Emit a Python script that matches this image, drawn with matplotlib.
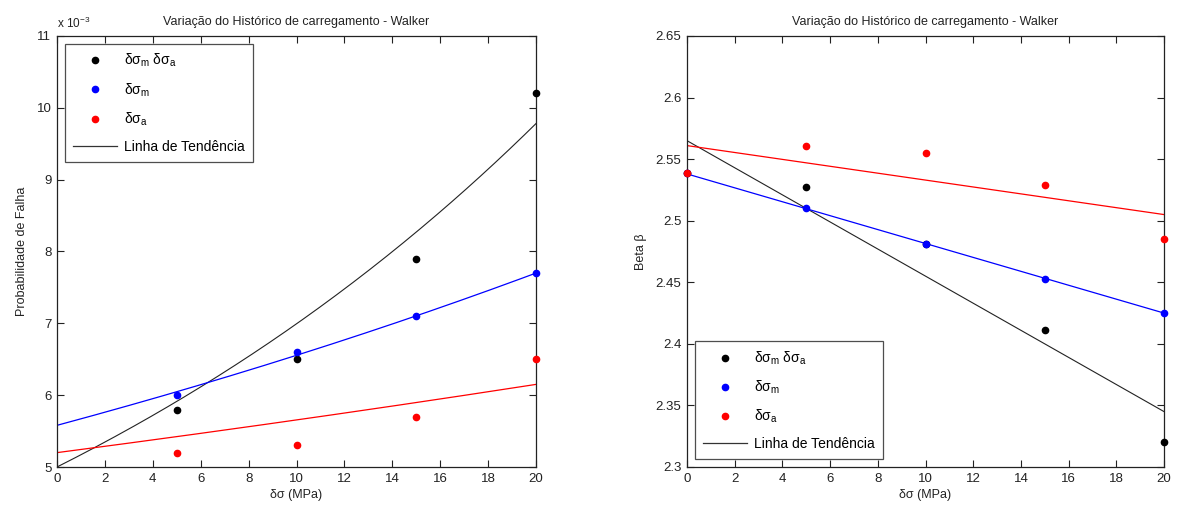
import numpy as np
import matplotlib
matplotlib.use("Agg")
import matplotlib.pyplot as plt
from matplotlib.lines import Line2D
from matplotlib.ticker import FuncFormatter, MultipleLocator

plt.rcParams["font.family"] = ["Liberation Sans", "DejaVu Sans"]
plt.rcParams["mathtext.fontset"] = "custom"
plt.rcParams["mathtext.rm"] = "Liberation Sans"
plt.rcParams["mathtext.it"] = "Liberation Sans"
plt.rcParams["mathtext.bf"] = "Liberation Sans"

# ---- Probabilidade de falha (left panel) ----
pf_x = [5, 10, 15, 20]
pf_both = [5.8e-3, 6.5e-3, 7.9e-3, 10.2e-3]
pf_mean = [6.0e-3, 6.6e-3, 7.1e-3, 7.7e-3]
pf_amp = [5.2e-3, 5.3e-3, 5.7e-3, 6.5e-3]
# exponential trend lines  y = a * exp(b * x)
pf_trend_both = (5.00e-3, 0.03355)
pf_trend_mean = (5.58e-3, 0.01610)
pf_trend_amp = (5.20e-3, 0.00839)

# ---- Índice de confiabilidade beta (right panel) ----
beta_x = [0, 5, 10, 15, 20]
beta_both = [2.539, 2.527, 2.481, 2.411, 2.320]
beta_mean = [2.539, 2.510, 2.481, 2.453, 2.425]
beta_amp = [2.539, 2.561, 2.555, 2.529, 2.485]
# linear trend lines  y = a + b * x
beta_trend_both = (2.565, -0.0110)
beta_trend_mean = (2.538, -0.00565)
beta_trend_amp = (2.561, -0.0028)

title = "Variação do Histórico de carregamento - Walker"
xlabel = "δσ (MPa)"
labels = ["δσ$_\\mathrm{m}$ δσ$_\\mathrm{a}$", "δσ$_\\mathrm{m}$", "δσ$_\\mathrm{a}$",
          "Linha de Tendência"]

BLUE = "#0000ff"
RED = "#ff0000"
FS = 8.5

fig = plt.figure(figsize=(11.79, 5.11), dpi=100)
axL = fig.add_axes([57 / 1179, 1 - 467 / 511, 479 / 1179, 431 / 511])
axR = fig.add_axes([687 / 1179, 1 - 467 / 511, 477 / 1179, 431 / 511])

xs = np.linspace(0, 20, 200)


def style(ax):
    ax.set_xlim(0, 20)
    ax.xaxis.set_major_locator(MultipleLocator(2))
    ax.tick_params(direction="in", top=True, right=True, labelsize=FS + 1,
                   length=5, width=0.8, pad=4, colors="#222222")
    for s in ax.spines.values():
        s.set_linewidth(0.9)
        s.set_color("#222222")
    ax.set_title(title, fontsize=FS + 0.5, color="#222222", pad=8)
    ax.set_xlabel(xlabel, fontsize=FS + 0.5, color="#222222", labelpad=3)


def legend_handles():
    return [
        Line2D([], [], ls="none", marker="o", ms=4.5, color="black"),
        Line2D([], [], ls="none", marker="o", ms=4.5, color=BLUE),
        Line2D([], [], ls="none", marker="o", ms=4.5, color=RED),
        Line2D([], [], color="#333333", lw=0.9),
    ]


# left panel
a, b = pf_trend_both
axL.plot(xs, a * np.exp(b * xs), color="#222222", lw=0.8)
a, b = pf_trend_mean
axL.plot(xs, a * np.exp(b * xs), color=BLUE, lw=0.9)
a, b = pf_trend_amp
axL.plot(xs, a * np.exp(b * xs), color=RED, lw=0.9)
axL.plot(pf_x, pf_both, "o", color="black", ms=4.5, clip_on=False, zorder=5)
axL.plot(pf_x, pf_mean, "o", color=BLUE, ms=4.5, clip_on=False, zorder=5)
axL.plot(pf_x, pf_amp, "o", color=RED, ms=4.5, clip_on=False, zorder=5)
axL.set_ylim(5e-3, 11e-3)
axL.yaxis.set_major_locator(MultipleLocator(1e-3))
axL.yaxis.set_major_formatter(FuncFormatter(lambda v, p: f"{v / 1e-3:g}"))
axL.set_ylabel("Probabilidade de Falha", fontsize=FS + 0.5, color="#222222", labelpad=6)
axL.text(0.0, 1.012, "x 10$^{-3}$", transform=axL.transAxes, fontsize=FS,
         color="#222222", ha="left", va="bottom")
style(axL)
legL = axL.legend(legend_handles(), labels, loc="upper left", fontsize=FS + 1.5,
                  frameon=True, fancybox=False, edgecolor="#222222",
                  borderpad=0.6, labelspacing=0.85, handlelength=3.2,
                  handletextpad=0.5, borderaxespad=0.55)
legL.get_frame().set_linewidth(0.9)

# right panel
a, b = beta_trend_both
axR.plot(xs, a + b * xs, color="#222222", lw=0.8)
a, b = beta_trend_mean
axR.plot(xs, a + b * xs, color=BLUE, lw=0.9)
a, b = beta_trend_amp
axR.plot(xs, a + b * xs, color=RED, lw=0.9)
axR.plot(beta_x, beta_both, "o", color="black", ms=4.5, clip_on=False, zorder=5)
axR.plot(beta_x, beta_mean, "o", color=BLUE, ms=4.5, clip_on=False, zorder=5)
axR.plot(beta_x, beta_amp, "o", color=RED, ms=4.5, clip_on=False, zorder=5)
axR.set_ylim(2.3, 2.65)
axR.yaxis.set_major_locator(MultipleLocator(0.05))
axR.yaxis.set_major_formatter(FuncFormatter(lambda v, p: f"{round(v, 2):g}"))
axR.set_ylabel("Beta β", fontsize=FS + 0.5, color="#222222", labelpad=6)
style(axR)
legR = axR.legend(legend_handles(), labels, loc="lower left", fontsize=FS + 1.5,
                  frameon=True, fancybox=False, edgecolor="#222222",
                  borderpad=0.6, labelspacing=0.85, handlelength=3.2,
                  handletextpad=0.5, borderaxespad=0.55)
legR.get_frame().set_linewidth(0.9)

fig.savefig("out.png", dpi=100, facecolor="white")
